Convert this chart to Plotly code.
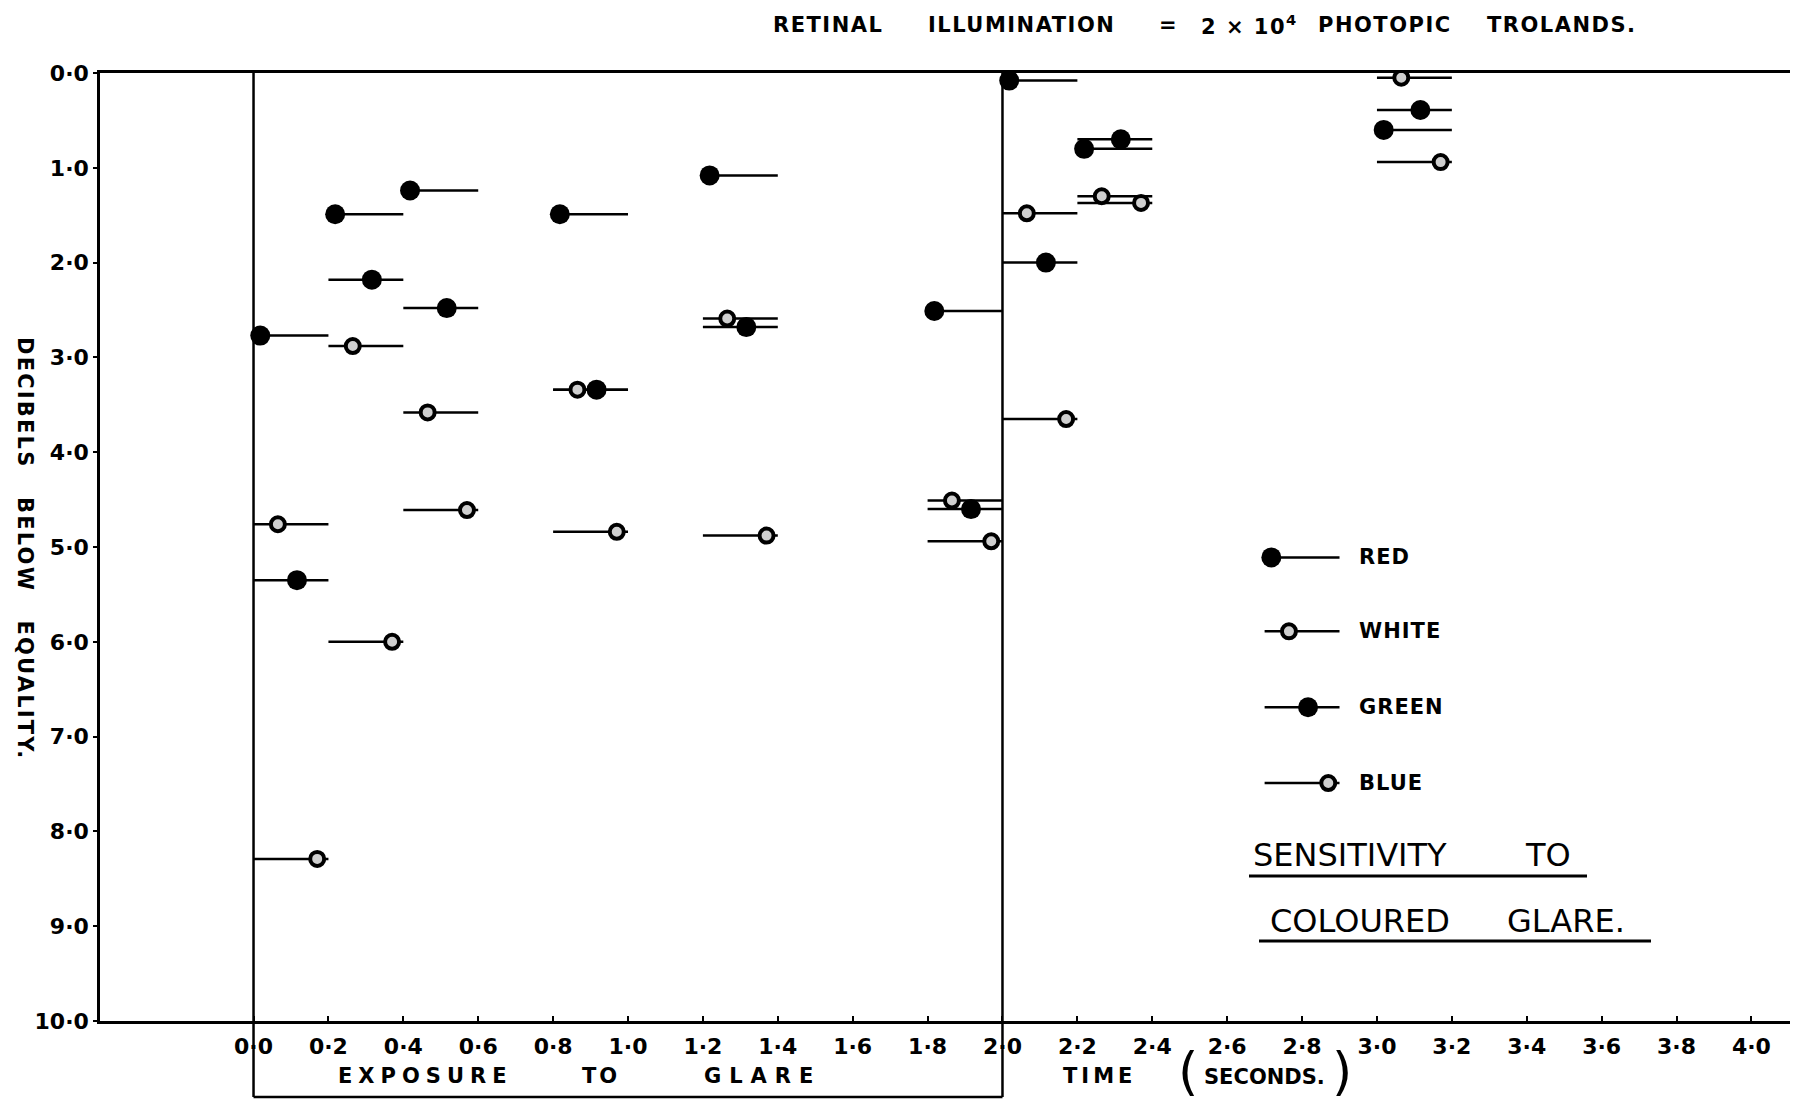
import plotly.graph_objects as go

# ---------------- data ----------------
INTERVAL_START = [0.0, 0.2, 0.4, 0.8, 1.2, 1.8, 2.0, 2.2, 3.0]
RED   = [2.77, 1.49, 1.24, 1.49, 1.08, 2.51, 0.08, 0.80, 0.60]
WHITE = [4.76, 2.88, 3.58, 3.34, 2.59, 4.51, 1.48, 1.30, 0.05]
GREEN = [5.35, 2.18, 2.48, 3.34, 2.68, 4.60, 2.00, 0.70, 0.39]
BLUE  = [8.29, 6.00, 4.61, 4.84, 4.88, 4.94, 3.65, 1.37, 0.94]
SERIES_NAMES = ["RED", "WHITE", "GREEN", "BLUE"]

X_TICK_VALUES = [0.0, 0.2, 0.4, 0.6, 0.8, 1.0, 1.2, 1.4, 1.6, 1.8, 2.0,
                 2.2, 2.4, 2.6, 2.8, 3.0, 3.2, 3.4, 3.6, 3.8, 4.0]
X_TICK_LABELS = ["0·0", "0·2", "0·4", "0·6", "0·8", "1·0", "1·2", "1·4", "1·6", "1·8", "2·0",
                 "2·2", "2·4", "2·6", "2·8", "3·0", "3·2", "3·4", "3·6", "3·8", "4·0"]
Y_TICK_VALUES = [0, 1, 2, 3, 4, 5, 6, 7, 8, 9, 10]
Y_TICK_LABELS = ["0·0", "1·0", "2·0", "3·0", "4·0", "5·0", "6·0", "7·0", "8·0", "9·0", "10·0"]

SERIES = {"RED": RED, "WHITE": WHITE, "GREEN": GREEN, "BLUE": BLUE}

# ---------------- layout / style ----------------
W, H = 1800, 1100
PAGE = 8                      # default body margin of the page
PLOT_W, PLOT_H = 1690, 948
ML, MT = 100 - PAGE, 73 - PAGE
MR = W - ML - PLOT_W
MB = H - MT - PLOT_H
X_RANGE = [-0.41, 4.103]
INTERVAL = 0.2
OFFSET = {"RED": 0.018, "WHITE": 0.065, "GREEN": 0.116, "BLUE": 0.17}
FILLED = dict(size=20, color="black", line=dict(width=0))
RING = dict(size=14, color="#cfcfcf", line=dict(width=4, color="black"))
MARKER_STYLE = {"RED": FILLED, "WHITE": RING, "GREEN": FILLED, "BLUE": RING}
LINE_W = 2.5
FONT = "DejaVu Sans"

LEGEND_X0 = 2.7
LEGEND_Y = {"RED": 5.11, "WHITE": 5.89, "GREEN": 6.69, "BLUE": 7.49}
LEGEND_TEXT_X = 2.947


def px_x(p):
    """page pixel x -> paper coordinate"""
    return (p - PAGE - ML) / PLOT_W


def px_y(p):
    """page pixel y -> paper coordinate"""
    return (MT + PLOT_H - (p - PAGE)) / PLOT_H


def spaced(text, ls):
    return f'<span style="letter-spacing:{ls}px">{text}</span>'


fig = go.Figure()

# horizontal interval lines
for name in SERIES_NAMES:
    xs, ys = [], []
    for s, v in zip(INTERVAL_START, SERIES[name]):
        xs += [s, s + INTERVAL, None]
        ys += [v, v, None]
    # legend sample line
    xs += [LEGEND_X0, LEGEND_X0 + INTERVAL, None]
    ys += [LEGEND_Y[name], LEGEND_Y[name], None]
    fig.add_trace(go.Scatter(x=xs, y=ys, mode="lines", showlegend=False,
                             line=dict(color="black", width=LINE_W),
                             hoverinfo="skip", name=name))

# markers (drawing order so filled circles sit on top of rings)
for name in ["WHITE", "BLUE", "RED", "GREEN"]:
    xs = [s + OFFSET[name] for s in INTERVAL_START] + [LEGEND_X0 + OFFSET[name]]
    ys = list(SERIES[name]) + [LEGEND_Y[name]]
    fig.add_trace(go.Scatter(x=xs, y=ys, mode="markers", showlegend=False,
                             marker=dict(symbol="circle", **MARKER_STYLE[name]),
                             name=name))

annotations = []


def ann(text, x, y, size, weight="bold", xanchor="center", yanchor="middle",
        xref="paper", yref="paper", angle=0):
    annotations.append(dict(text=text, x=x, y=y, xref=xref, yref=yref,
                            xanchor=xanchor, yanchor=yanchor, showarrow=False,
                            textangle=angle,
                            font=dict(family=FONT, size=size, color="black", weight=weight)))


# title words
for word, cx in [("RETINAL", 828), ("ILLUMINATION", 1022), ("=", 1168),
                 ("2 × 10<sup>4</sup>", 1249), ("PHOTOPIC", 1385), ("TROLANDS.", 1562)]:
    ann(spaced(word, 1.5), px_x(cx), px_y(25), 21)

# y-axis title (rotated, reads top to bottom)
ann(spaced("DECIBELS   BELOW   EQUALITY.", 2.2), px_x(25), px_y(548), 21, angle=90)

# x-axis labels
ann(spaced("EXPOSURE", 6), px_x(425), px_y(1076), 21)
ann(spaced("TO", 3), px_x(601), px_y(1076), 21)
ann(spaced("GLARE", 8), px_x(762), px_y(1076), 21)
ann(spaced("TIME", 4), px_x(1099), px_y(1076), 21)
ann("SECONDS.", px_x(1264), px_y(1077), 21)
ann("(", px_x(1188), px_y(1071), 52, weight="normal")
ann(")", px_x(1342), px_y(1071), 52, weight="normal")

# legend labels
for name in SERIES_NAMES:
    ann(spaced(name, 1), LEGEND_TEXT_X, LEGEND_Y[name], 21, xanchor="left",
        xref="x", yref="y")

# caption
ann("SENSITIVITY", px_x(1251), px_y(855), 32, weight="normal", xanchor="left")
ann("TO", px_x(1523), px_y(855), 32, weight="normal", xanchor="left")
ann("COLOURED", px_x(1268), px_y(921), 32, weight="normal", xanchor="left")
ann("GLARE.", px_x(1505), px_y(921), 32, weight="normal", xanchor="left")

box_bottom = px_y(1097)
shapes = [
    # vertical lines at the start and end of glare exposure, boxing the label
    dict(type="line", xref="x", yref="paper", x0=0, x1=0, y0=box_bottom, y1=1,
         line=dict(color="black", width=2.5)),
    dict(type="line", xref="x", yref="paper", x0=2, x1=2, y0=box_bottom, y1=1,
         line=dict(color="black", width=2.5)),
    dict(type="line", xref="x", yref="paper", x0=0, x1=2, y0=box_bottom, y1=box_bottom,
         line=dict(color="black", width=2.5)),
    # caption underlines
    dict(type="line", xref="paper", yref="paper", x0=px_x(1249), x1=px_x(1587),
         y0=px_y(876), y1=px_y(876), line=dict(color="black", width=2.8)),
    dict(type="line", xref="paper", yref="paper", x0=px_x(1259), x1=px_x(1651),
         y0=px_y(941), y1=px_y(941), line=dict(color="black", width=2.8)),
]

fig.update_layout(
    width=W, height=H,
    margin=dict(l=ML, r=MR, t=MT, b=MB, pad=0),
    paper_bgcolor="white", plot_bgcolor="white",
    showlegend=False,
    annotations=annotations,
    shapes=shapes,
    xaxis=dict(range=X_RANGE, showgrid=False, zeroline=False,
               showline=True, linecolor="black", linewidth=2.5, mirror=True,
               ticks="inside", ticklen=5, tickwidth=2, tickcolor="black",
               tickvals=X_TICK_VALUES, ticktext=X_TICK_LABELS,
               ticklabelstandoff=4,
               tickfont=dict(family=FONT, size=22, color="black", weight="bold")),
    yaxis=dict(range=[10, 0], showgrid=False, zeroline=False,
               showline=True, linecolor="black", linewidth=2.5, mirror=False,
               ticks="outside", ticklen=4, tickwidth=2, tickcolor="black",
               tickvals=Y_TICK_VALUES, ticktext=Y_TICK_LABELS,
               ticklabelstandoff=0,
               tickfont=dict(family=FONT, size=22, color="black", weight="bold")),
)

fig.write_html("out.html")
